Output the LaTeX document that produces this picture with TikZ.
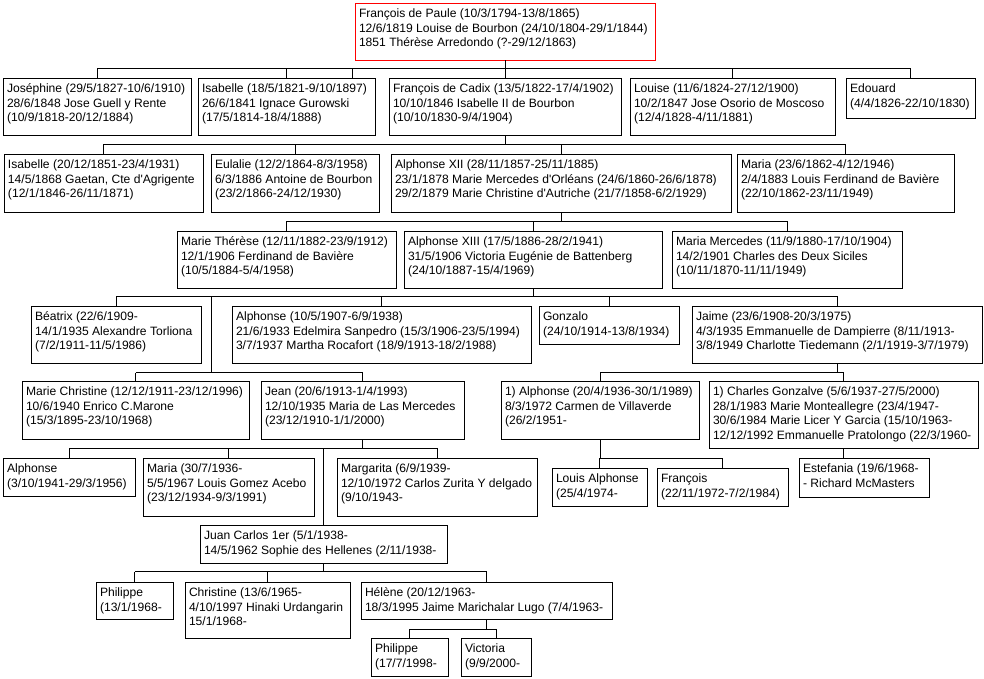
\documentclass[tikz,border=0pt]{standalone}
\usepackage{fontspec}
\setmainfont{Liberation Sans}
\newcommand\famfont{\fontsize{12.1}{14.6}\selectfont}
\newcommand\famcontent[3]{\hbox to #1{\vbox to #2{\vskip 4.5pt\hbox{\begin{tabular}{@{\hspace{4pt}}l@{}}#3\end{tabular}}\vss}\hss}}
\newcommand\fambox[7][famnode]{\node[#1] (#2) at (#3,-#4) {\famcontent{\dimexpr #5pt-#3pt\relax}{\dimexpr #6pt-#4pt\relax}{#7}};}
\begin{document}
\begin{tikzpicture}[x=1pt,y=1pt,
  famnode/.style={draw=black, line width=1pt, inner sep=0pt, outer sep=0pt, anchor=north west, font=\famfont, fill=white},
  rootnode/.style={famnode, draw=red},
  link/.style={draw=black, line width=1pt}]
\useasboundingbox[fill=white] (0,0) rectangle (984,-678);

% bar levels
\coordinate (bar1) at (0,-68);
\coordinate (bar2) at (0,-144);
\coordinate (bar3) at (0,-221);
\coordinate (bar4) at (0,-296);
\coordinate (bar5) at (0,-372.5);
\coordinate (bar6a) at (0,-448.3);
\coordinate (bar6b) at (0,-458.3);
\coordinate (bar8) at (0,-571.7);
\coordinate (bar9) at (0,-629);

% level 0
\fambox[rootnode]{fdp}{355}{3}{655}{60}{François de Paule (10/3/1794-13/8/1865)\\12/6/1819 Louise de Bourbon (24/10/1804-29/1/1844)\\1851 Thérèse Arredondo (?-29/12/1863)}

% level 1
\fambox{jos}{3}{78}{191}{135}{Joséphine (29/5/1827-10/6/1910)\\28/6/1848 Jose Guell y Rente\\(10/9/1818-20/12/1884)}
\fambox{isa}{198}{78}{375}{135}{Isabelle (18/5/1821-9/10/1897)\\26/6/1841 Ignace Gurowski\\(17/5/1814-18/4/1888)}
\fambox{fdc}{389}{78}{621}{135}{François de Cadix (13/5/1822-17/4/1902)\\10/10/1846 Isabelle II de Bourbon\\(10/10/1830-9/4/1904)}
\fambox{lou}{630}{78}{835}{135}{Louise (11/6/1824-27/12/1900)\\10/2/1847 Jose Osorio de Moscoso\\(12/4/1828-4/11/1881)}
\fambox{edo}{846}{78}{975}{118}{Edouard\\(4/4/1826-22/10/1830)}

% level 2
\fambox{isab}{4}{154}{203}{212}{Isabelle (20/12/1851-23/4/1931)\\14/5/1868 Gaetan, Cte d\textquotesingle Agrigente\\(12/1/1846-26/11/1871)}
\fambox{eul}{211}{154}{379}{212}{Eulalie (12/2/1864-8/3/1958)\\6/3/1886 Antoine de Bourbon\\(23/2/1866-24/12/1930)}
\fambox{axii}{391}{154}{731}{212}{Alphonse XII (28/11/1857-25/11/1885)\\23/1/1878 Marie Mercedes d\textquotesingle Orléans (24/6/1860-26/6/1878)\\29/2/1879 Marie Christine d\textquotesingle Autriche (21/7/1858-6/2/1929)}
\fambox{mar}{737}{154}{954}{212}{Maria (23/6/1862-4/12/1946)\\2/4/1883 Louis Ferdinand de Bavière\\(22/10/1862-23/11/1949)}

% level 3
\fambox{mt}{177}{231}{396}{288}{Marie Thérèse (12/11/1882-23/9/1912)\\12/1/1906 Ferdinand de Bavière\\(10/5/1884-5/4/1958)}
\fambox{axiii}{404}{231}{662}{288}{Alphonse XIII (17/5/1886-28/2/1941)\\31/5/1906 Victoria Eugénie de Battenberg\\(24/10/1887-15/4/1969)}
\fambox{mm}{672}{231}{902}{288}{Maria Mercedes (11/9/1880-17/10/1904)\\14/2/1901 Charles des Deux Siciles\\(10/11/1870-11/11/1949)}

% level 4
\fambox{bea}{31}{306}{201}{363}{Béatrix (22/6/1909-\\14/1/1935 Alexandre Torliona\\(7/2/1911-11/5/1986)}
\fambox{alf}{232}{306}{531}{363}{Alphonse (10/5/1907-6/9/1938)\\21/6/1933 Edelmira Sanpedro (15/3/1906-23/5/1994)\\3/7/1937 Martha Rocafort (18/9/1913-18/2/1988)}
\fambox{gon}{539}{306}{679}{344}{Gonzalo\\(24/10/1914-13/8/1934)}
\fambox{jai}{692}{306}{982}{363}{Jaime (23/6/1908-20/3/1975)\\4/3/1935 Emmanuelle de Dampierre (8/11/1913-\\3/8/1949 Charlotte Tiedemann (2/1/1919-3/7/1979)}

% level 5
\fambox{mc}{22}{381}{249}{439}{Marie Christine (12/12/1911-23/12/1996)\\10/6/1940 Enrico C.Marone\\(15/3/1895-23/10/1968)}
\fambox{jean}{261}{381}{464}{439}{Jean (20/6/1913-1/4/1993)\\12/10/1935 Maria de Las Mercedes\\(23/12/1910-1/1/2000)}
\fambox{alb}{501}{381}{699}{439}{1) Alphonse (20/4/1936-30/1/1989)\\8/3/1972 Carmen de Villaverde\\(26/2/1951-}
\fambox{cha}{709}{381}{978}{448}{1) Charles Gonzalve (5/6/1937-27/5/2000)\\28/1/1983 Marie Monteallegre (23/4/1947-\\30/6/1984 Marie Licer Y Garcia (15/10/1963-\\12/12/1992 Emmanuelle Pratolongo (22/3/1960-}

% level 6
\fambox{alc}{3}{458}{135}{496}{Alphonse\\(3/10/1941-29/3/1956)}
\fambox{mari}{143}{458}{314}{516}{Maria (30/7/1936-\\5/5/1967 Louis Gomez Acebo\\(23/12/1934-9/3/1991)}
\fambox{marg}{337}{458}{537}{516}{Margarita (6/9/1939-\\12/10/1972 Carlos Zurita Y delgado\\(9/10/1943-}
\fambox{la}{552}{468}{647}{506}{Louis Alphonse\\(25/4/1974-}
\fambox{fr}{657}{468}{788}{506}{François\\(22/11/1972-7/2/1984)}
\fambox{est}{799}{458}{929}{497}{Estefania (19/6/1968-\\- Richard McMasters}

% level 7
\fambox{jc}{200}{525}{447}{563}{Juan Carlos 1er (5/1/1938-\\14/5/1962 Sophie des Hellenes (2/11/1938-}

% level 8
\fambox{pha}{96}{582}{173}{619}{Philippe\\(13/1/1968-}
\fambox{chr}{185}{582}{350}{638}{Christine (13/6/1965-\\4/10/1997 Hinaki Urdangarin\\15/1/1968-}
\fambox{hel}{361}{582}{612}{619}{Hélène (20/12/1963-\\18/3/1995 Jaime Marichalar Lugo (7/4/1963-}

% level 9
\fambox{phb}{371}{638}{448}{676}{Philippe\\(17/7/1998-}
\fambox{vic}{461}{638}{531}{676}{Victoria\\(9/9/2000-}

% connectors level 1
\draw[link] (fdp.south) -- (fdp.south |- bar1);
\draw[link] (jos.north |- bar1) -- (edo.north |- bar1);
\foreach \n in {jos,isa,fdc,lou,edo} \draw[link] (\n.north) -- (\n.north |- bar1);
\coordinate (isaX) at (352.7,-78);
\draw[link] (isaX) -- (isaX |- bar1);

% level 2
\draw[link] (fdc.south) -- (fdc.south |- bar2);
\draw[link] (isab.north |- bar2) -- (mar.north |- bar2);
\foreach \n in {isab,eul,axii,mar} \draw[link] (\n.north) -- (\n.north |- bar2);

% level 3
\draw[link] (axii.south) -- (axii.south |- bar3);
\draw[link] (mt.north |- bar3) -- (mm.north |- bar3);
\foreach \n in {mt,axiii,mm} \draw[link] (\n.north) -- (\n.north |- bar3);

% level 4
\draw[link] (axiii.south) -- (axiii.south |- bar4);
\draw[link] (bea.north |- bar4) -- (jai.north |- bar4);
\foreach \n in {bea,alf,gon,jai} \draw[link] (\n.north) -- (\n.north |- bar4);
\coordinate (mcj) at (211,-296);
\draw[link] (mcj) -- (mcj |- bar5);

% level 5
\draw[link] (mc.north |- bar5) -- (jean.north |- bar5);
\foreach \n in {mc,jean} \draw[link] (\n.north) -- (\n.north |- bar5);
\draw[link] (jai.south) -- (jai.south |- bar5);
\draw[link] (alb.north |- bar5) -- (cha.north |- bar5);
\foreach \n in {alb,cha} \draw[link] (\n.north) -- (\n.north |- bar5);

% level 6
\draw[link] (jean.south) -- (jean.south |- bar6a);
\draw[link] (alc.north |- bar6a) -- (marg.north |- bar6a);
\foreach \n in {alc,mari,marg,jc} \draw[link] (\n.north) -- (\n.north |- bar6a);
\draw[link] (alb.south) -- (alb.south |- bar6b);
\draw[link] (la.north |- bar6b) -- (fr.north |- bar6b);
\foreach \n in {la,fr} \draw[link] (\n.north) -- (\n.north |- bar6b);
\draw[link] (cha.south) -- (cha.south |- est.north);

% level 8
\draw[link] (jc.south) -- (jc.south |- bar8);
\draw[link] (pha.north |- bar8) -- (hel.north |- bar8);
\foreach \n in {pha,chr,hel} \draw[link] (\n.north) -- (\n.north |- bar8);

% level 9
\draw[link] (hel.south) -- (hel.south |- bar9);
\draw[link] (phb.north |- bar9) -- (vic.north |- bar9);
\foreach \n in {phb,vic} \draw[link] (\n.north) -- (\n.north |- bar9);
\end{tikzpicture}
\end{document}
